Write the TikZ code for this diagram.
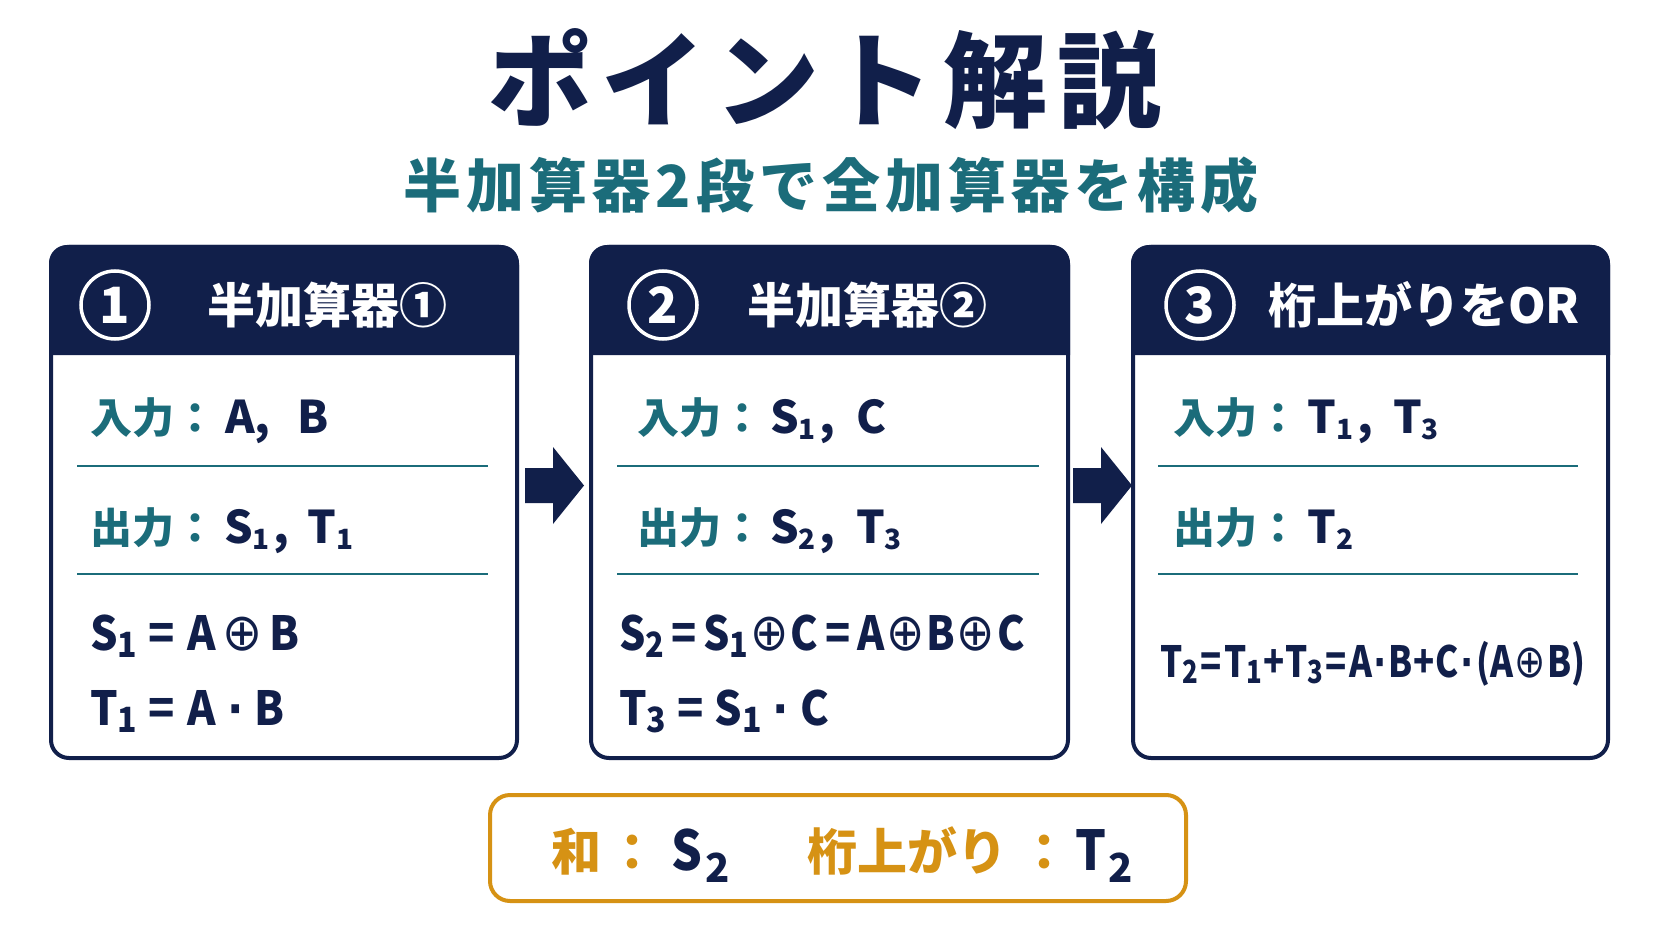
\documentclass[tikz,border=0pt]{standalone}
\usepackage{fontspec}
\setmainfont{Noto Sans CJK JP}
\newfontfamily\sym{DejaVu Sans}
\usepackage{graphicx}
\definecolor{navy}{RGB}{17,31,74}
\definecolor{myteal}{RGB}{27,108,122}
\definecolor{gold}{RGB}{214,146,20}
\newcommand{\fs}[1]{\fontsize{#1}{#1}\selectfont}
\newcommand{\lo}[2][0.68]{\raisebox{-0.15em}{\scalebox{#1}{#2}}}
\newcommand{\lat}[1]{{\fs{45}#1}}
\newcommand{\xr}[1][52]{{\sym\mdseries\fontsize{#1}{#1}\selectfont ⊕}}
\newcommand{\cd}{{\sym\bfseries ·}}
\begin{document}
\begin{tikzpicture}[x=1pt,y=-1pt,
  panel/.style={draw=navy,line width=4pt,rounded corners=18pt,fill=white,minimum height=511pt,inner sep=0pt},
  numcirc/.style={circle,draw=white,line width=3.5pt,minimum size=68pt,inner sep=0pt,text=white,font=\fs{50}\bfseries},
  hdr/.style={text=white,font=\fs{48}\bfseries,inner sep=0pt},
  rowtxt/.style={text=navy,font=\fs{42}\bfseries,inner sep=0pt,anchor=base west},
  eqtxt/.style={text=navy,font=\fs{47}\bfseries,inner sep=0pt,anchor=base west},
  sepline/.style={myteal,line width=2.5pt},
  blockarrow/.style={fill=navy},
]
\useasboundingbox (0,0) rectangle (1672,941);
\fill[white] (0,0) rectangle (1672,941);

% title
\node[text=navy,font=\fs{104}\bfseries,inner sep=0pt] (title) at (825,79)
  {ポ\kern10pt イ\kern10pt ン\kern10pt ト\kern10pt 解\kern10pt 説};
\node[text=myteal,font=\fs{58}\bfseries,inner sep=0pt] (subtitle) at (831,185.5)
  {半\kern5pt 加\kern5pt 算\kern5pt 器\kern5pt 2\kern5pt 段\kern5pt で\kern5pt 全\kern5pt 加\kern5pt 算\kern5pt 器\kern5pt を\kern5pt 構\kern5pt 成};

% panels
\node[panel,minimum width=466pt] (p1) at (284,502.5) {};
\node[panel,minimum width=477pt] (p2) at (829.5,502.5) {};
\node[panel,minimum width=475pt] (p3) at (1370.5,502.5) {};
\foreach \p in {p1,p2,p3}{
  \fill[navy] ([yshift=-110pt]\p.north west) [rounded corners=18pt] -- (\p.north west) -- (\p.north east) [sharp corners] -- ([yshift=-110pt]\p.north east) -- cycle;
}

% headers
\node[numcirc] (c1) at (115,305) {1};
\node[hdr,anchor=west] (h1) at (207,305) {半加算器①};
\node[numcirc] (c2) at (663,305) {2};
\node[hdr,anchor=west] (h2) at (747,305) {半加算器②};
\node[numcirc] (c3) at (1200,305) {3};
\node[hdr,anchor=west] (h3) at (1268,305) {桁上がりをOR};

% panel 1
\node[rowtxt] (i1) at (90,433) {\textcolor{myteal}{入力：}\kern9pt\lat{A,\hspace{0.6em}B}};
\draw[sepline] (77,466) -- (488,466);
\node[rowtxt] (o1) at (90,543) {\textcolor{myteal}{出力：}\kern8pt\lat{S\lo[0.62]{1}\kern4pt,\hspace{0.4em}T\lo[0.62]{1}}};
\draw[sepline] (77,574) -- (488,574);
\node[eqtxt] (e1a) at (90,650) {\scalebox{0.92}[1]{S\lo[0.74]{1}\kern12pt=\kern14pt A\kern7pt\xr\kern7pt B}};
\node[eqtxt] (e1b) at (90,725) {\scalebox{0.92}[1]{T\lo[0.74]{1}\kern12pt=\kern14pt A\kern12pt\cd\kern12pt B}};

% panel 2
\node[rowtxt] (i2) at (637,433) {\textcolor{myteal}{入力：}\kern7pt\lat{S\lo[0.62]{1}\kern4pt,\hspace{0.45em}C}};
\draw[sepline] (617,466) -- (1039,466);
\node[rowtxt] (o2) at (637,543) {\textcolor{myteal}{出力：}\kern7pt\lat{S\lo[0.62]{2}\kern4pt,\hspace{0.45em}T\lo[0.62]{3}}};
\draw[sepline] (617,574) -- (1039,574);
\node[eqtxt] (e2a) at (619,650) {\scalebox{0.88}[1]{S\lo[0.74]{2}\kern8pt=\kern8pt S\lo[0.74]{1}\kern2pt\xr\kern2pt C\kern8pt=\kern8pt A\kern2pt\xr\kern2pt B\kern2pt\xr\kern2pt C}};
\node[eqtxt] (e2b) at (619,725) {\scalebox{0.92}[1]{T\lo[0.74]{3}\kern12pt=\kern12pt S\lo[0.74]{1}\kern12pt\cd\kern12pt C}};

% panel 3
\node[rowtxt] (i3) at (1173,433) {\textcolor{myteal}{入力：}\kern8pt\lat{T\lo[0.62]{1}\kern4pt,\hspace{0.45em}T\lo[0.62]{3}}};
\draw[sepline] (1158,466) -- (1578,466);
\node[rowtxt] (o3) at (1173,543) {\textcolor{myteal}{出力：}\kern8pt\lat{T\lo[0.62]{2}}};
\draw[sepline] (1158,574) -- (1578,574);
\node[text=navy,font=\fs{43}\bfseries,inner sep=0pt,anchor=base west] (e3) at (1160,677)
  {\scalebox{0.81}[1]{T\lo[0.74]{2}\kern3pt=\kern3pt T\lo[0.74]{1}\kern1pt+\kern1pt T\lo[0.74]{3}\kern3pt=\kern3pt A\kern2pt\cd\kern2pt B\kern1pt+\kern1pt C\kern2pt\cd\kern3pt(A\kern2pt\xr[46]\kern2pt B)}};

% arrows
\coordinate (a1) at (525,485.5);
\coordinate (a2) at (1073,485.5);
\foreach \a in {a1,a2}{
  \fill[blockarrow] ([yshift=17.5pt]\a) -- ++(28,0) -- ++(0,-21) -- ++(31,38.5) -- ++(-31,38.5) -- ++(0,-21) -- ++(-28,0) -- cycle;
}

% summary
\node[draw=gold,line width=4pt,rounded corners=20pt,fill=white,minimum width=696pt,minimum height=106pt] (sum) at (838,848) {};
\node[text=navy,font=\bfseries,inner sep=0pt,anchor=base west] (sumtxt) at (551,870)
  {{\color{gold}\fs{50}和\kern6pt：\kern14pt}{\fs{55}\scalebox{0.88}[1]{S}\kern3pt\raisebox{-12pt}{\fs{40}2}}\kern78pt{\color{gold}\fs{50}桁上がり\kern12pt：\kern6pt}{\fs{55}\scalebox{0.88}[1]{T}\kern2pt\raisebox{-12pt}{\fs{40}2}}};
\end{tikzpicture}
\end{document}
